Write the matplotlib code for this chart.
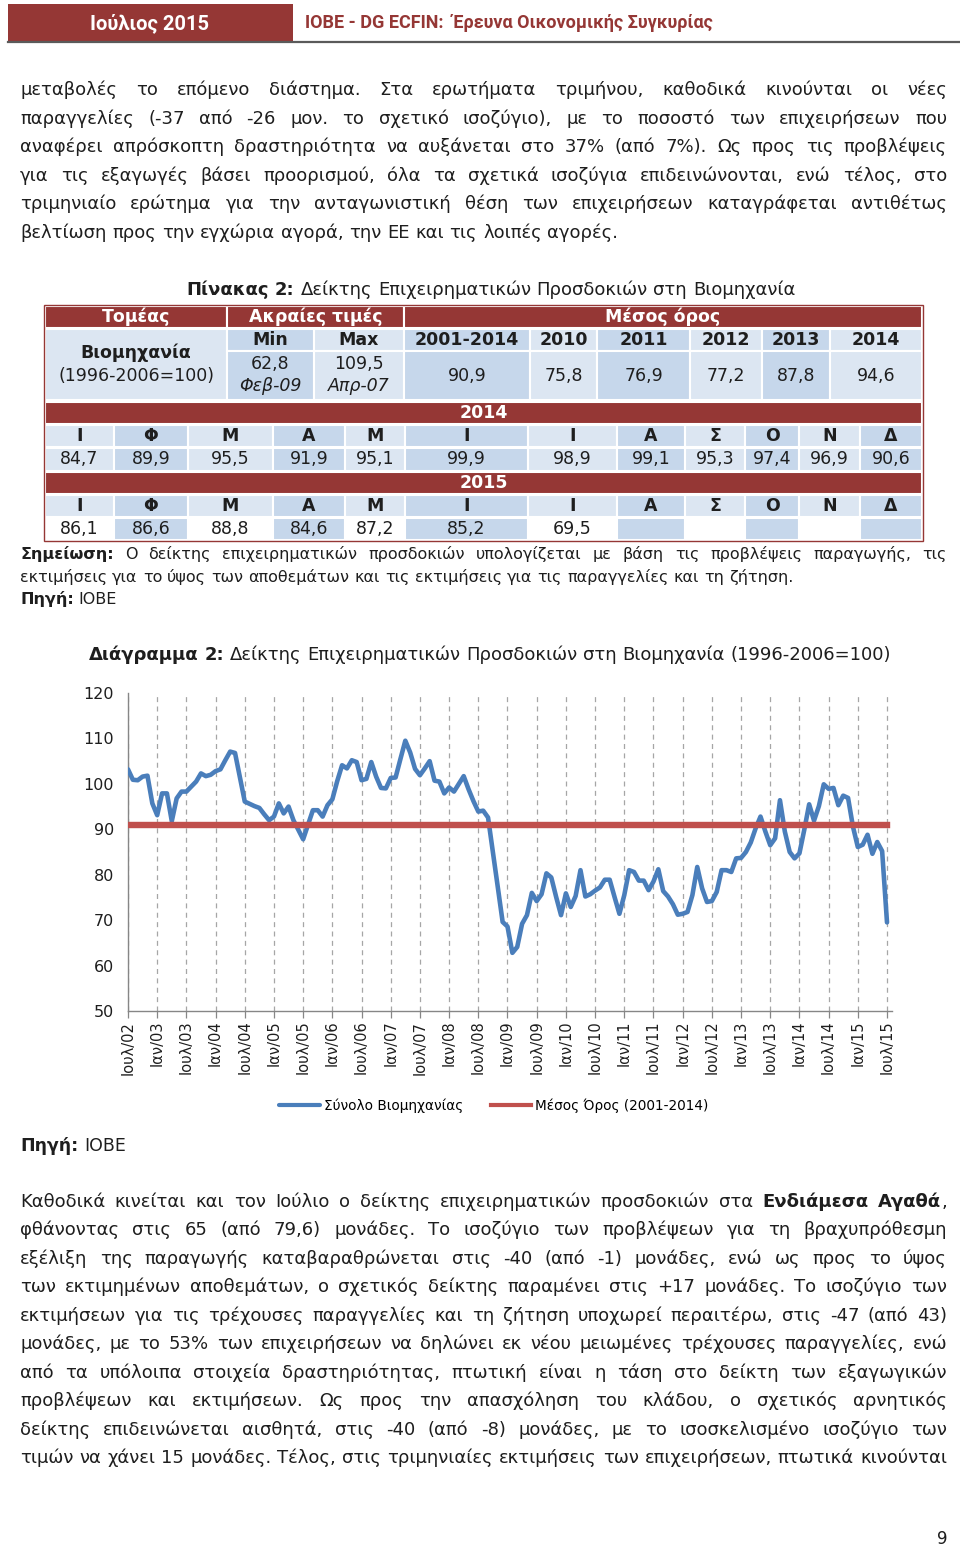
import matplotlib
matplotlib.use('Agg')
import matplotlib.pyplot as plt
from matplotlib.patches import Rectangle
from matplotlib.lines import Line2D

# ---------------- DATA ----------------
# Monthly business confidence index, industry (1996-2006=100), Jul 2002 - Jul 2015
values_2002 = [103.2, 100.9, 100.8, 101.6, 101.8, 95.7]
values_2003 = [93.1, 97.9, 97.9, 91.8, 96.8, 98.3, 98.3, 99.4, 100.5, 102.3, 101.7, 102.0]
values_2004 = [102.8, 103.2, 105.2, 107.1, 106.8, 101.5, 96.1, 95.6, 95.1, 94.7, 93.3, 92.0]
values_2005 = [92.8, 95.7, 93.5, 95.0, 92.0, 89.9, 87.8, 91.0, 94.2, 94.2, 92.8, 95.3]
values_2006 = [96.6, 100.6, 104.1, 103.4, 105.2, 104.8, 100.8, 101.1, 104.8, 101.6, 99.1, 99.0]
values_2007 = [101.3, 101.4, 105.5, 109.5, 106.9, 103.3, 101.9, 103.4, 105.0, 100.7, 100.5, 97.9]
values_2008 = [99.2, 98.3, 100.0, 101.7, 98.8, 96.2, 93.9, 94.1, 92.6, 85.0, 77.3, 69.6]
values_2009 = [68.6, 62.8, 64.1, 69.2, 71.1, 76.0, 74.2, 75.7, 80.3, 79.4, 75.1, 71.1]
values_2010 = [75.9, 72.9, 75.3, 81.0, 75.2, 75.7, 76.5, 77.2, 78.9, 78.9, 75.1, 71.4]
values_2011 = [75.5, 81.0, 80.6, 78.7, 78.7, 76.6, 78.5, 81.2, 76.4, 75.2, 73.5, 71.2]
values_2012 = [71.4, 71.8, 75.5, 81.7, 77.0, 74.0, 74.2, 76.2, 81.0, 81.0, 80.6, 83.6]
values_2013 = [83.7, 85.0, 87.1, 90.2, 92.8, 89.5, 86.5, 88.0, 96.4, 89.5, 85.0, 83.6]
values_2014 = [84.7, 89.9, 95.5, 91.9, 95.1, 99.9, 98.9, 99.1, 95.3, 97.4, 96.9, 90.6]
values_2015 = [86.1, 86.6, 88.8, 84.6, 87.2, 85.2, 69.5]
mean_2001_2014 = 90.9

x_tick_labels = ["Ιουλ/02", "Ιαν/03", "Ιουλ/03", "Ιαν/04", "Ιουλ/04", "Ιαν/05", "Ιουλ/05",
                 "Ιαν/06", "Ιουλ/06", "Ιαν/07", "Ιουλ/07", "Ιαν/08", "Ιουλ/08", "Ιαν/09",
                 "Ιουλ/09", "Ιαν/10", "Ιουλ/10", "Ιαν/11", "Ιουλ/11", "Ιαν/12", "Ιουλ/12",
                 "Ιαν/13", "Ιουλ/13", "Ιαν/14", "Ιουλ/14", "Ιαν/15", "Ιουλ/15"]
y_ticks = [50, 60, 70, 80, 90, 100, 110, 120]
series_names = ["Σύνολο Βιομηχανίας", "Μέσος Όρος (2001-2014)"]

# Table data
table_header = ["Τομέας", "Ακραίες τιμές", "Μέσος όρος"]
sector_name = ["Βιομηχανία", "(1996-2006=100)"]
extreme_labels = ["Min", "Max"]
extreme_values = [62.8, 109.5]
extreme_dates = ["Φεβ-09", "Απρ-07"]
avg_periods = ["2001-2014", "2010", "2011", "2012", "2013", "2014"]
avg_values = [90.9, 75.8, 76.9, 77.2, 87.8, 94.6]
month_letters = ["Ι", "Φ", "Μ", "Α", "Μ", "Ι", "Ι", "Α", "Σ", "Ο", "Ν", "Δ"]
table_years = ["2014", "2015"]

# Text
header_left = "Ιούλιος 2015"
header_right = "IOBE - DG ECFIN:  Έρευνα Οικονομικής Συγκυρίας"
para1 = [
    "μεταβολές το επόμενο διάστημα. Στα ερωτήματα τριμήνου, καθοδικά κινούνται οι νέες",
    "παραγγελίες (-37 από -26 μον. το σχετικό ισοζύγιο), με το ποσοστό των επιχειρήσεων που",
    "αναφέρει απρόσκοπτη δραστηριότητα να αυξάνεται στο 37% (από 7%). Ως προς τις προβλέψεις",
    "για τις εξαγωγές βάσει προορισμού, όλα τα σχετικά ισοζύγια επιδεινώνονται, ενώ τέλος, στο",
    "τριμηνιαίο ερώτημα για την ανταγωνιστική θέση των επιχειρήσεων καταγράφεται αντιθέτως",
    "βελτίωση προς την εγχώρια αγορά, την ΕΕ και τις λοιπές αγορές.",
]
table_title = "**Πίνακας 2:** Δείκτης Επιχειρηματικών Προσδοκιών στη Βιομηχανία"
note_lines = [
    "**Σημείωση:** Ο δείκτης επιχειρηματικών προσδοκιών υπολογίζεται με βάση τις προβλέψεις παραγωγής, τις",
    "εκτιμήσεις για το ύψος των αποθεμάτων και τις εκτιμήσεις για τις παραγγελίες και τη ζήτηση.",
    "**Πηγή:** ΙΟΒΕ",
]
chart_title = "**Διάγραμμα 2:** Δείκτης Επιχειρηματικών Προσδοκιών στη Βιομηχανία (1996-2006=100)"
source_text = "**Πηγή:** ΙΟΒΕ"
para2 = [
    "Καθοδικά κινείται και τον Ιούλιο ο δείκτης επιχειρηματικών προσδοκιών στα **Ενδιάμεσα Αγαθά**,",
    "φθάνοντας στις 65 (από 79,6) μονάδες. Το ισοζύγιο των προβλέψεων για τη βραχυπρόθεσμη",
    "εξέλιξη της παραγωγής καταβαραθρώνεται στις -40 (από -1) μονάδες, ενώ ως προς το ύψος",
    "των εκτιμημένων αποθεμάτων, ο σχετικός δείκτης παραμένει στις +17 μονάδες. Το ισοζύγιο των",
    "εκτιμήσεων για τις τρέχουσες παραγγελίες και τη ζήτηση υποχωρεί περαιτέρω, στις -47 (από 43)",
    "μονάδες, με το 53% των επιχειρήσεων να δηλώνει εκ νέου μειωμένες τρέχουσες παραγγελίες, ενώ",
    "από τα υπόλοιπα στοιχεία δραστηριότητας, πτωτική είναι η τάση στο δείκτη των εξαγωγικών",
    "προβλέψεων και εκτιμήσεων. Ως προς την απασχόληση του κλάδου, ο σχετικός αρνητικός",
    "δείκτης επιδεινώνεται αισθητά, στις -40 (από -8) μονάδες, με το ισοσκελισμένο ισοζύγιο των",
    "τιμών να χάνει 15 μονάδες. Τέλος, στις τριμηνιαίες εκτιμήσεις των επιχειρήσεων, πτωτικά κινούνται",
]
page_number = "9"

# ---------------- STYLE ----------------
W, H = 960, 1548
BODY = 'DejaVu Sans'
TXT = '#1e1e1e'
RED = '#953735'
BLUE_LINE = '#4A7EBB'
RED_LINE = '#C0504D'
LIGHT = '#DCE6F2'
DARK = '#C6D7EB'

fig = plt.figure(figsize=(W / 100, H / 100), dpi=100)
fig.patch.set_facecolor('white')
renderer = fig.canvas.get_renderer()


def X(px):
    return px / W


def Y(py):
    return 1 - py / H


_cache = {}


def measure(s, size, bold, family=BODY):
    key = (s, round(size, 3), bold, family)
    if key not in _cache:
        t = fig.text(0, 0, s, fontsize=size, fontweight='bold' if bold else 'normal', family=family)
        _cache[key] = t.get_window_extent(renderer).width
        t.remove()
    return _cache[key]


def space_width(size, family=BODY):
    return measure('a a', size, False, family) - measure('aa', size, False, family)


def parse(line):
    words = []
    bold = False
    for raw in line.split(' '):
        if raw == '':
            continue
        frags = []
        parts = raw.split('**')
        for k, p in enumerate(parts):
            if k > 0:
                bold = not bold
            if p:
                frags.append((p, bold))
        if frags:
            words.append(frags)
    return words


def draw_line(text, y, x0=20, x1=947, size=13.0, align='justify', color=TXT, family=BODY):
    words = parse(text)
    n = len(words)
    while True:
        widths = [[measure(f, size, b, family) for f, b in w] for w in words]
        wsum = [sum(ws) for ws in widths]
        sp = space_width(size, family)
        if align == 'justify' and n > 1:
            gap = (x1 - x0 - sum(wsum)) / (n - 1)
            if gap < 0.6 * sp and size > 6:
                size *= 0.98
                continue
        else:
            gap = sp
        break
    total = sum(wsum) + gap * (n - 1)
    if align == 'center':
        x = (x0 + x1) / 2 - total / 2
    elif align == 'right':
        x = x1 - total
    else:
        x = x0
    for w, ws in zip(words, widths):
        xx = x
        for (f, b), fw in zip(w, ws):
            fig.text(X(xx), Y(y), f, fontsize=size, fontweight='bold' if b else 'normal',
                     family=family, color=color, ha='left', va='baseline')
            xx += fw
        x += sum(ws) + gap


def rect(x0, y0, x1, y1, fc, ec='none', lw=0.0, z=1):
    fig.add_artist(Rectangle((X(x0), Y(y1)), (x1 - x0) / W, (y1 - y0) / H,
                             transform=fig.transFigure, facecolor=fc, edgecolor=ec,
                             linewidth=lw, zorder=z))


def ctext(x, y, s, size=12.5, bold=False, color=TXT, style='normal'):
    fig.text(X(x), Y(y), s, fontsize=size, fontweight='bold' if bold else 'normal',
             fontstyle=style, family=BODY, color=color, ha='center', va='center')


def fmt(v):
    return f"{v:.1f}".replace('.', ',')


# ---------------- HEADER ----------------
rect(8, 4, 293, 41, RED)
fig.add_artist(Line2D([X(8), X(960)], [Y(42), Y(42)], transform=fig.transFigure,
                      color='#5a5a5a', lw=1.6))
fig.text(X(150), Y(23), header_left, fontsize=14.5, fontweight='bold', family='Roboto',
         color='white', ha='center', va='center')
fig.text(X(305), Y(23), header_right, fontsize=13, fontweight='bold', family='Roboto',
         color=RED, ha='left', va='center')

# ---------------- PARAGRAPH 1 ----------------
for k, line in enumerate(para1):
    draw_line(line, 95 + 28.6 * k, size=13,
              align='justify' if k < len(para1) - 1 else 'left')

# ---------------- TABLE ----------------
draw_line(table_title, 295, x0=183, x1=799, size=13, align='center')

TX0, TX1 = 45, 922
sep = 1.5
# header row
hdr_cols = [45, 227, 404, 922]
for k in range(3):
    rect(hdr_cols[k], 306, hdr_cols[k + 1], 328, RED, ec='white', lw=sep)
    ctext((hdr_cols[k] + hdr_cols[k + 1]) / 2, 317, table_header[k], size=12.5, bold=True, color='white')

top_cols = [45, 227, 314, 404, 530, 597, 690, 762, 830, 922]
# sector cell spanning two rows
rect(45, 329, 227, 400, LIGHT, ec='white', lw=sep)
ctext(136, 353, sector_name[0], size=12.5, bold=True)
ctext(136, 376, sector_name[1], size=12.5)
# extreme columns
for k in range(2):
    c0, c1 = top_cols[1 + k], top_cols[2 + k]
    col = DARK if k == 0 else LIGHT
    rect(c0, 329, c1, 351, col, ec='white', lw=sep)
    rect(c0, 351, c1, 400, col, ec='white', lw=sep)
    ctext((c0 + c1) / 2, 340, extreme_labels[k], size=12.5, bold=True)
    ctext((c0 + c1) / 2, 364, fmt(extreme_values[k]), size=12.5)
    ctext((c0 + c1) / 2, 386, extreme_dates[k], size=12.5, style='italic')
# average columns
for k in range(len(avg_periods)):
    c0, c1 = top_cols[3 + k], top_cols[4 + k]
    col = DARK if k % 2 == 0 else LIGHT
    rect(c0, 329, c1, 351, col, ec='white', lw=sep)
    rect(c0, 351, c1, 400, col, ec='white', lw=sep)
    ctext((c0 + c1) / 2, 340, avg_periods[k], size=12.5, bold=True)
    ctext((c0 + c1) / 2, 376, fmt(avg_values[k]), size=12.5)

month_cols = [45, 114, 188, 273, 345, 405, 528, 617, 685, 745, 799, 860, 922]
row_sets = [(402, 424, 425, 447, 448, 471, values_2014, LIGHT),
            (472, 494, 495, 517, 518, 540, values_2015, 'white')]
for (r0, r1, m0, m1, v0, v1, vals, even_col), yr in zip(row_sets, table_years):
    rect(TX0, r0, TX1, r1, RED, ec='white', lw=sep)
    ctext((TX0 + TX1) / 2, (r0 + r1) / 2, yr, size=12.5, bold=True, color='white')
    for k in range(12):
        c0, c1 = month_cols[k], month_cols[k + 1]
        rect(c0, m0, c1, m1, LIGHT if k % 2 == 0 else DARK, ec='white', lw=sep)
        ctext((c0 + c1) / 2, (m0 + m1) / 2, month_letters[k], size=12.5, bold=True)
        rect(c0, v0, c1, v1, even_col if k % 2 == 0 else DARK, ec='white', lw=sep)
        if k < len(vals):
            ctext((c0 + c1) / 2, (v0 + v1) / 2, fmt(vals[k]), size=12.5)
rect(TX0 - 1, 305, TX1 + 1, 541, 'none', ec=RED, lw=1.0, z=3)

# notes
draw_line(note_lines[0], 559, size=11.5, align='justify')
draw_line(note_lines[1], 582, size=11.5, align='left')
draw_line(note_lines[2], 604, size=11.5, align='left')

# ---------------- CHART ----------------
draw_line(chart_title, 660, x0=88, x1=892, size=13, align='center')

series = (values_2002 + values_2003 + values_2004 + values_2005 + values_2006 + values_2007 +
          values_2008 + values_2009 + values_2010 + values_2011 + values_2012 + values_2013 +
          values_2014 + values_2015)
idx = list(range(len(series)))
mean_series = [mean_2001_2014] * len(series)

ax = fig.add_axes([X(128), Y(1011), (892 - 128) / W, (1011 - 693) / H])
l1, = ax.plot(idx, series, color=BLUE_LINE, lw=3.3, solid_joinstyle='round',
              solid_capstyle='round', zorder=3, label=series_names[0])
l2, = ax.plot(idx, mean_series, color=RED_LINE, lw=4.6, zorder=4, label=series_names[1])
month_px = (887 - 128) / (len(series) - 1)
ax.set_xlim(0, (892 - 128) / month_px)
ax.set_ylim(y_ticks[0], y_ticks[-1])
ax.set_yticks(y_ticks)
ax.set_yticklabels([str(v) for v in y_ticks])
step = 6
ax.set_xticks([step * k for k in range(len(x_tick_labels))])
ax.set_xticklabels(x_tick_labels, rotation=90, fontsize=10.5, color=TXT, family=BODY)
ax.tick_params(axis='x', length=5, width=0.9, color='#868686', pad=2, direction='out')
ax.tick_params(axis='y', length=0, pad=10, labelsize=11.5, labelcolor=TXT)
ax.grid(axis='x', linestyle=(0, (4, 3.5)), color='#A6A6A6', lw=0.9, zorder=0)
for s in ['top', 'right']:
    ax.spines[s].set_visible(False)
for s in ['left', 'bottom']:
    ax.spines[s].set_color('#868686')
    ax.spines[s].set_linewidth(1.0)
ax.set_facecolor('none')

leg = fig.legend(handles=[l1, l2], labels=series_names, loc='center',
                 bbox_to_anchor=(X(494), Y(1106)), ncol=2, frameon=False,
                 fontsize=9.8, handlelength=3.0, columnspacing=2.0, handletextpad=0.3)
for h in leg.get_lines():
    h.set_linewidth(3.0)

draw_line(source_text, 1151, size=12.5, align='left')

# ---------------- PARAGRAPH 2 ----------------
for k, line in enumerate(para2):
    draw_line(line, 1207 + 28.45 * k, size=13, align='justify')

fig.text(X(942), Y(1544), page_number, fontsize=12, family=BODY, color=TXT, ha='center', va='baseline')

fig.savefig('out.png', dpi=100, facecolor='white')
